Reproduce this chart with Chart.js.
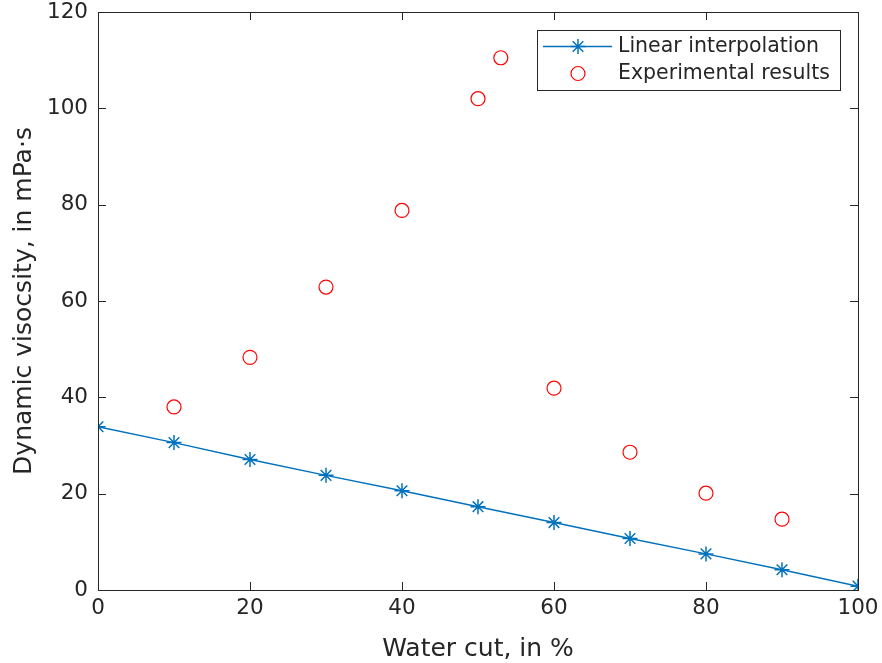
<!DOCTYPE html>
<html>
<head>
<meta charset="utf-8">
<script src="https://cdn.jsdelivr.net/npm/chart.js@4/dist/chart.umd.min.js"></script>
<style>
  html, body { margin: 0; padding: 0; background: #fff; }
  #wrap { width: 882px; height: 663px; }
</style>
</head>
<body>
<div id="wrap"><canvas id="myChart"></canvas></div>
<script>
// water cut (%) and viscosity (mPa·s)
var interpX = [0, 10, 20, 30, 40, 50, 60, 70, 80, 90, 100];
var interpY = [33.9, 30.6, 27.1, 23.8, 20.6, 17.3, 14.0, 10.7, 7.5, 4.2, 0.8];
var expX = [10, 20, 30, 40, 50, 53, 60, 70, 80, 90];
var expY = [38.0, 48.3, 62.9, 78.8, 102.0, 110.5, 41.9, 28.6, 20.1, 14.7];
var xTicks = [0, 20, 40, 60, 80, 100];
var yTicks = [0, 20, 40, 60, 80, 100, 120];

var axisColor = '#262626';
var font = 'DejaVu Sans';

var interpData = interpX.map(function (x, i) { return { x: x, y: interpY[i] }; });
var expData = expX.map(function (x, i) { return { x: x, y: expY[i] }; });

// box around the axes plus inward ticks on all four sides
var boxPlugin = {
  id: 'box',
  afterDraw: function (chart) {
    var ctx = chart.ctx, a = chart.chartArea;
    var xs = chart.scales.x, ys = chart.scales.y;
    ctx.save();
    ctx.strokeStyle = axisColor;
    ctx.lineWidth = 1;
    ctx.strokeRect(a.left + 0.5, a.top + 0.5, a.right - a.left, a.bottom - a.top);
    ctx.beginPath();
    xTicks.forEach(function (v) {
      var px = Math.round(xs.getPixelForValue(v)) + 0.5;
      ctx.moveTo(px, a.bottom); ctx.lineTo(px, a.bottom - 8);
      ctx.moveTo(px, a.top); ctx.lineTo(px, a.top + 8);
    });
    yTicks.forEach(function (v) {
      var py = Math.round(ys.getPixelForValue(v)) + 0.5;
      ctx.moveTo(a.left, py); ctx.lineTo(a.left + 8, py);
      ctx.moveTo(a.right, py); ctx.lineTo(a.right - 8, py);
    });
    ctx.stroke();

    // legend
    var lx = 537.5, ly = 30.5, lw = 303, lh = 60;
    ctx.fillStyle = '#fff';
    ctx.fillRect(lx, ly, lw, lh);
    ctx.strokeStyle = axisColor;
    ctx.strokeRect(lx, ly, lw, lh);

    ctx.strokeStyle = '#0072BD';
    ctx.lineWidth = 1.5;
    ctx.beginPath();
    ctx.moveTo(543, 46.5); ctx.lineTo(612, 46.5);
    ctx.stroke();
    Chart.helpers.drawPoint(ctx, { pointStyle: 'star', radius: 7.5, borderWidth: 1.5 }, 578, 46.5);

    ctx.strokeStyle = '#ff0000';
    ctx.lineWidth = 1.2;
    Chart.helpers.drawPoint(ctx, { pointStyle: 'circle', radius: 7, borderWidth: 1.2 }, 578, 73.5);

    ctx.fillStyle = axisColor;
    ctx.font = '20.5px "' + font + '"';
    ctx.textBaseline = 'middle';
    ctx.textAlign = 'left';
    ctx.fillText('Linear interpolation', 618, 46.5);
    ctx.fillText('Experimental results', 618, 73.5);
    ctx.restore();
  }
};

var config = {
  type: 'scatter',
  data: {
    datasets: [
      {
        label: 'Linear interpolation',
        data: interpData,
        showLine: true,
        borderColor: '#0072BD',
        backgroundColor: '#0072BD',
        borderWidth: 1.5,
        pointStyle: 'star',
        pointRadius: 7.5,
        pointBorderWidth: 1.5,
        order: 2
      },
      {
        label: 'Experimental results',
        data: expData,
        showLine: false,
        borderColor: '#ff0000',
        backgroundColor: 'rgba(0,0,0,0)',
        pointStyle: 'circle',
        pointRadius: 7,
        pointBorderWidth: 1.2,
        order: 1
      }
    ]
  },
  options: {
    responsive: true,
    maintainAspectRatio: false,
    animation: false,
    layout: { padding: 0 },
    plugins: {
      legend: { display: false },
      tooltip: { enabled: false }
    },
    scales: {
      x: {
        type: 'linear',
        min: 0, max: 100,
        afterBuildTicks: function (s) { s.ticks = xTicks.map(function (v) { return { value: v }; }); },
        afterFit: function (s) { s.height = 73; s.paddingLeft = 0; s.paddingRight = 24; },
        grid: { display: false, drawTicks: false },
        border: { display: false },
        ticks: { color: axisColor, font: { family: font, size: 21.5 }, padding: 6, maxRotation: 0 },
        title: { display: true, text: 'Water cut, in %', color: axisColor, font: { family: font, size: 25 }, padding: { top: 0, bottom: -1 } }
      },
      y: {
        type: 'linear',
        min: 0, max: 120,
        afterBuildTicks: function (s) { s.ticks = yTicks.map(function (v) { return { value: v }; }); },
        afterFit: function (s) { s.width = 98; s.paddingTop = 12; s.paddingBottom = 0; },
        grid: { display: false, drawTicks: false },
        border: { display: false },
        ticks: { color: axisColor, font: { family: font, size: 21.5 }, padding: 10 },
        title: { display: true, text: 'Dynamic visocsity, in mPa·s', color: axisColor, font: { family: font, size: 25 }, padding: { top: 9, bottom: 0 } }
      }
    }
  },
  plugins: [boxPlugin]
};

const myChart = new Chart(document.getElementById('myChart'), config);
</script>
</body>
</html>
